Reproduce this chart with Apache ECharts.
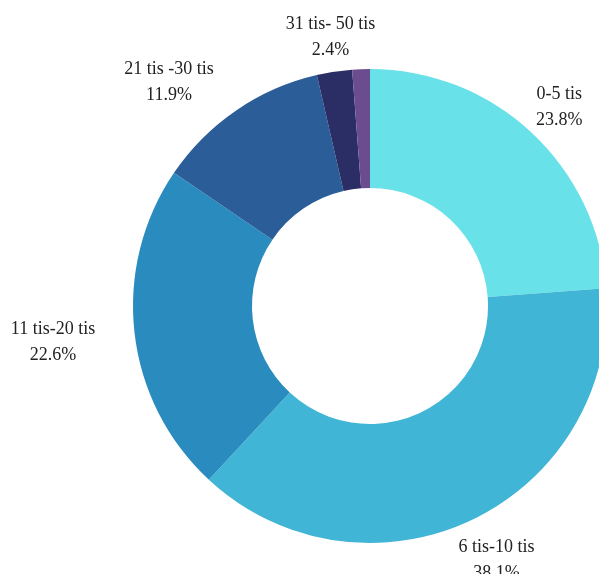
<!DOCTYPE html>
<html>
<head>
<meta charset="utf-8">
<style>
  html, body { margin: 0; padding: 0; background: #ffffff; }
  #chart { width: 599px; height: 574px; }
</style>
<script src="https://cdn.jsdelivr.net/npm/echarts@6/dist/echarts.min.js"></script>
</head>
<body>
<div id="chart"></div>
<script>
// data
const categories = ["0-5 tis", "6 tis-10 tis", "11 tis-20 tis", "21 tis -30 tis", "31 tis- 50 tis", "nad 50 tis"];
const shares = [23.8, 38.1, 22.6, 11.9, 2.4, 1.2];
const sliceColors = ["#68e1e8", "#41b5d5", "#2a8cbe", "#2b5d99", "#2b2e64", "#6b4c8e"];
const showLabel = [true, true, true, true, true, false];

// label placement tweaks (distance from ring, extra shift)
const labelLen = [37, 43, 82, 34, 39, 0];
const labelShift = [[3, 2], [5, 2], [0, 0], [-48, 0], [2, 4], [0, 0]];

const chart = echarts.init(document.getElementById("chart"));

let data = [];
for (let i = 0; i < categories.length; i++) {
  data.push({
    name: categories[i],
    value: shares[i],
    itemStyle: { color: sliceColors[i] },
    label: { show: showLabel[i] },
    labelLine: { show: false, length: labelLen[i], length2: 0 },
  });
}

const option = {
  animation: false,
  series: [
    {
      type: "pie",
      center: [370, 306],
      radius: [118, 237],
      startAngle: 90,
      clockwise: true,
      avoidLabelOverlap: false,
      label: {
        position: "outside",
        distanceToLabelLine: 0,
        formatter: "{b}\n{c}%",
        fontFamily: "Liberation Serif",
        fontSize: 18,
        lineHeight: 26,
        color: "#222222",
      },
      labelLayout: function (params) {
        const s = labelShift[params.dataIndex];
        return { align: "center", verticalAlign: "middle", dx: s[0], dy: s[1] };
      },
      data: data,
    },
  ],
};

chart.setOption(option);
</script>
</body>
</html>
